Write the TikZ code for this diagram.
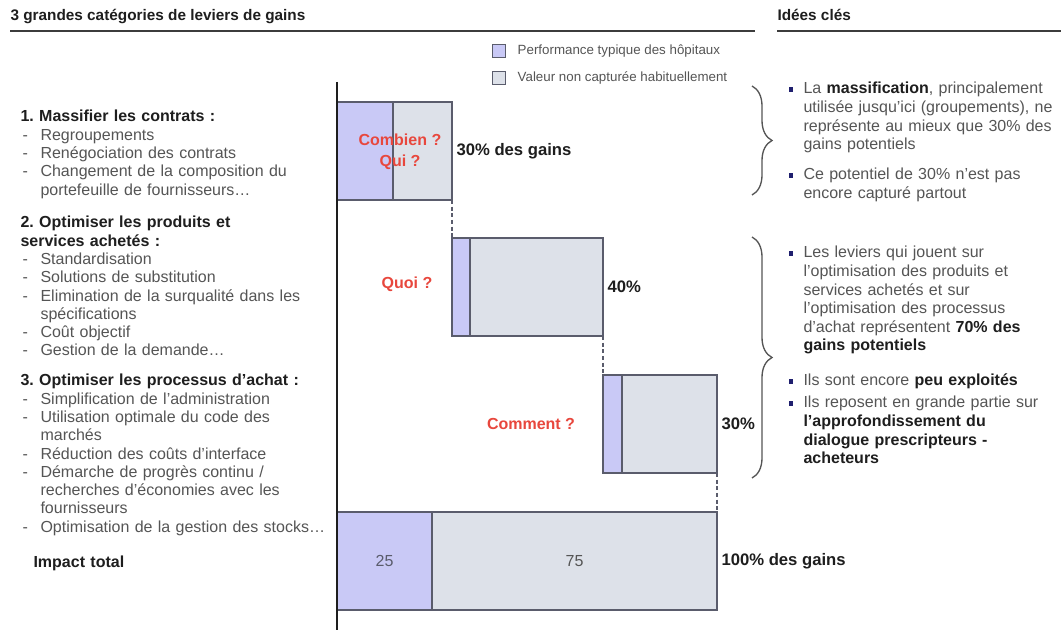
\documentclass[tikz,border=0pt]{standalone}
\usepackage{fontspec}
\setmainfont{Liberation Sans}
\usetikzlibrary{positioning, decorations.pathreplacing}
\definecolor{cperf}{HTML}{C9C9F6}
\definecolor{clost}{HTML}{DDE1E9}
\definecolor{cedge}{HTML}{5A5C6C}
\definecolor{cred}{HTML}{E8473D}
\definecolor{ctext}{HTML}{555555}
\definecolor{cdark}{HTML}{1E1E1E}
\definecolor{cnavy}{HTML}{1F1F6E}
\definecolor{crule}{HTML}{3C3C3C}
\frenchspacing
\newlength\pu \setlength\pu{0.75pt}
\newcommand\dashline[1]{\hspace*{2\pu}\makebox[18\pu][l]{-}#1}
\newcommand\cont[1]{\hspace*{20\pu}#1}
\newcommand\hang[1]{\hspace*{16\pu}#1}
\newcommand\bul{\makebox[16\pu][l]{\hspace*{1\pu}\textcolor{cnavy}{\rule[1.6pt]{3.5pt}{3.5pt}}}}
\newcommand\hl[1]{\textbf{\textcolor{cdark}{#1}}}
\tikzset{
  every picture/.style={x=0.75pt, y=-0.75pt, line width=0.8pt},
  perf/.style={draw=cedge, fill=cperf, line width=1pt, inner sep=0pt, outer sep=0pt, anchor=north west, minimum height=98\pu},
  lost/.style={draw=cedge, fill=clost, line width=1pt, inner sep=0pt, outer sep=0pt, minimum height=98\pu},
  swatch/.style={draw=cedge, fill=#1, line width=1pt, minimum size=13\pu, inner sep=0pt},
  keytext/.style={font=\fontsize{10}{12}\selectfont, text=ctext, anchor=west, inner sep=0pt},
  pct/.style={font=\bfseries\fontsize{12.5}{14}\selectfont, text=cdark, inner sep=0pt},
  ask/.style={font=\bfseries\fontsize{12}{14}\selectfont, text=cred, align=center, inner sep=0pt},
  lever/.style={font=\fontsize{12}{13.7}\selectfont, text=ctext, anchor=base west, inner sep=0pt, text width=330\pu, align=left},
  idea/.style={font=\fontsize{12}{13.95}\selectfont, text=ctext, anchor=base west, inner sep=0pt, text width=280\pu, align=left},
  heading/.style={font=\bfseries\fontsize{11.5}{13}\selectfont, text=cdark, anchor=base west, inner sep=0pt},
  headrule/.style={draw=crule, line width=1.4pt},
  link/.style={densely dashed, draw=cedge, line width=0.8pt},
  curly/.style={decorate, decoration={brace, amplitude=15pt, aspect=0.5}, draw=ctext, line width=1pt},
}
\begin{document}
\begin{tikzpicture}
  \useasboundingbox[fill=white] (0,0) rectangle (1061,630);
  % titles
  \node[heading] (tleft) at (10,21) {3 grandes catégories de leviers de gains};
  \node[heading] (tright) at (777,21) {Idées clés};
  \coordinate (r1a) at (10,31); \coordinate (r1b) at (755,31);
  \coordinate (r2a) at (777,31); \coordinate (r2b) at (1061,31);
  \draw[headrule] (r1a) -- (r1b);
  \draw[headrule] (r2a) -- (r2b);
  % legend
  \node[swatch=cperf] (kperf) at (499,51) {};
  \node[swatch=clost] (klost) at (499,78) {};
  \node[keytext, right=11\pu of kperf] (tperf) {Performance typique des hôpitaux};
  \node[keytext, right=11\pu of klost] (tlost) {Valeur non capturée habituellement};
  % levers
  \node[lever] (lev1) at (20,122) {\hl{1. Massifier les contrats :}\\
    \dashline{Regroupements}\\
    \dashline{Renégociation des contrats}\\
    \dashline{Changement de la composition du}\\
    \cont{portefeuille de fournisseurs…}};
  \node[lever] (lev2) at (20,228) {\hl{2. Optimiser les produits et}\\
    \hl{services achetés :}\\
    \dashline{Standardisation}\\
    \dashline{Solutions de substitution}\\
    \dashline{Elimination de la surqualité dans les}\\
    \cont{spécifications}\\
    \dashline{Coût objectif}\\
    \dashline{Gestion de la demande…}};
  \node[lever] (lev3) at (20,386) {\hl{3. Optimiser les processus d'achat :}\\
    \dashline{Simplification de l'administration}\\
    \dashline{Utilisation optimale du code des}\\
    \cont{marchés}\\
    \dashline{Réduction des coûts d'interface}\\
    \dashline{Démarche de progrès continu /}\\
    \cont{recherches d'économies avec les}\\
    \cont{fournisseurs}\\
    \dashline{Optimisation de la gestion des stocks…}};
  \node[lever] (total) at (33,568) {\hl{Impact total}};
  % bars
  \node[perf, minimum width=56\pu] (b1p) at (337,102) {};
  \node[lost, minimum width=59\pu, right=0pt of b1p] (b1l) {};
  \node[perf, minimum width=18\pu] (b2p) at (452,238) {};
  \node[lost, minimum width=133\pu, right=0pt of b2p] (b2l) {};
  \node[perf, minimum width=19\pu] (b3p) at (603,375) {};
  \node[lost, minimum width=95\pu, right=0pt of b3p] (b3l) {};
  \node[perf, minimum width=95\pu, font=\fontsize{12}{14}\selectfont, text=cedge] (b4p) at (337,512) {25};
  \node[lost, minimum width=285\pu, right=0pt of b4p, font=\fontsize{12}{14}\selectfont, text=ctext] (b4l) {75};
  \draw[link] (b1l.south east) -- (b2p.north west);
  \draw[link] (b2l.south east) -- (b3p.north west);
  \draw[link] (b3l.south east) -- (b4l.north east);
  \coordinate (ax0) at (337,82); \coordinate (ax1) at (337,632);
  \draw[cdark, line width=2pt] (ax0) -- (ax1);
  % bar labels
  \node[ask] (q1) at (400,152) {Combien ?\\[2pt]Qui ?};
  \node[ask] (q2) at (407,284) {Quoi ?};
  \node[ask] (q3) at (531,424) {Comment ?};
  \node[pct, right=4\pu of b1l] (g1) {30\% des gains};
  \node[pct, right=4\pu of b2l] (g2) {40\%};
  \node[pct, right=4\pu of b3l] (g3) {30\%};
  \node[pct, right=4\pu of b4l] (g4) {100\% des gains};
  % key ideas
  \coordinate (ba0) at (752,86); \coordinate (ba1) at (752,195);
  \coordinate (bb0) at (752,237); \coordinate (bb1) at (752,478);
  \draw[curly] (ba0) -- (ba1);
  \draw[curly] (bb0) -- (bb1);
  \node[idea] (ia1) at (787,94) {\bul La \hl{massification}, principalement\\
    \hang{utilisée jusqu'ici (groupements), ne}\\
    \hang{représente au mieux que 30\% des}\\
    \hang{gains potentiels}};
  \node[idea] (ia2) at (787,180) {\bul Ce potentiel de 30\% n'est pas\\
    \hang{encore capturé partout}};
  \node[idea] (ib1) at (787,258) {\bul Les leviers qui jouent sur\\
    \hang{l'optimisation des produits et}\\
    \hang{services achetés et sur}\\
    \hang{l'optimisation des processus}\\
    \hang{d'achat représentent \hl{70\% des}}\\
    \hang{\hl{gains potentiels}}};
  \node[idea] (ib2) at (787,386) {\bul Ils sont encore \hl{peu exploités}};
  \node[idea] (ib3) at (787,408) {\bul Ils reposent en grande partie sur\\
    \hang{\hl{l'approfondissement du}}\\
    \hang{\hl{dialogue prescripteurs -}}\\
    \hang{\hl{acheteurs}}};
\end{tikzpicture}
\end{document}
